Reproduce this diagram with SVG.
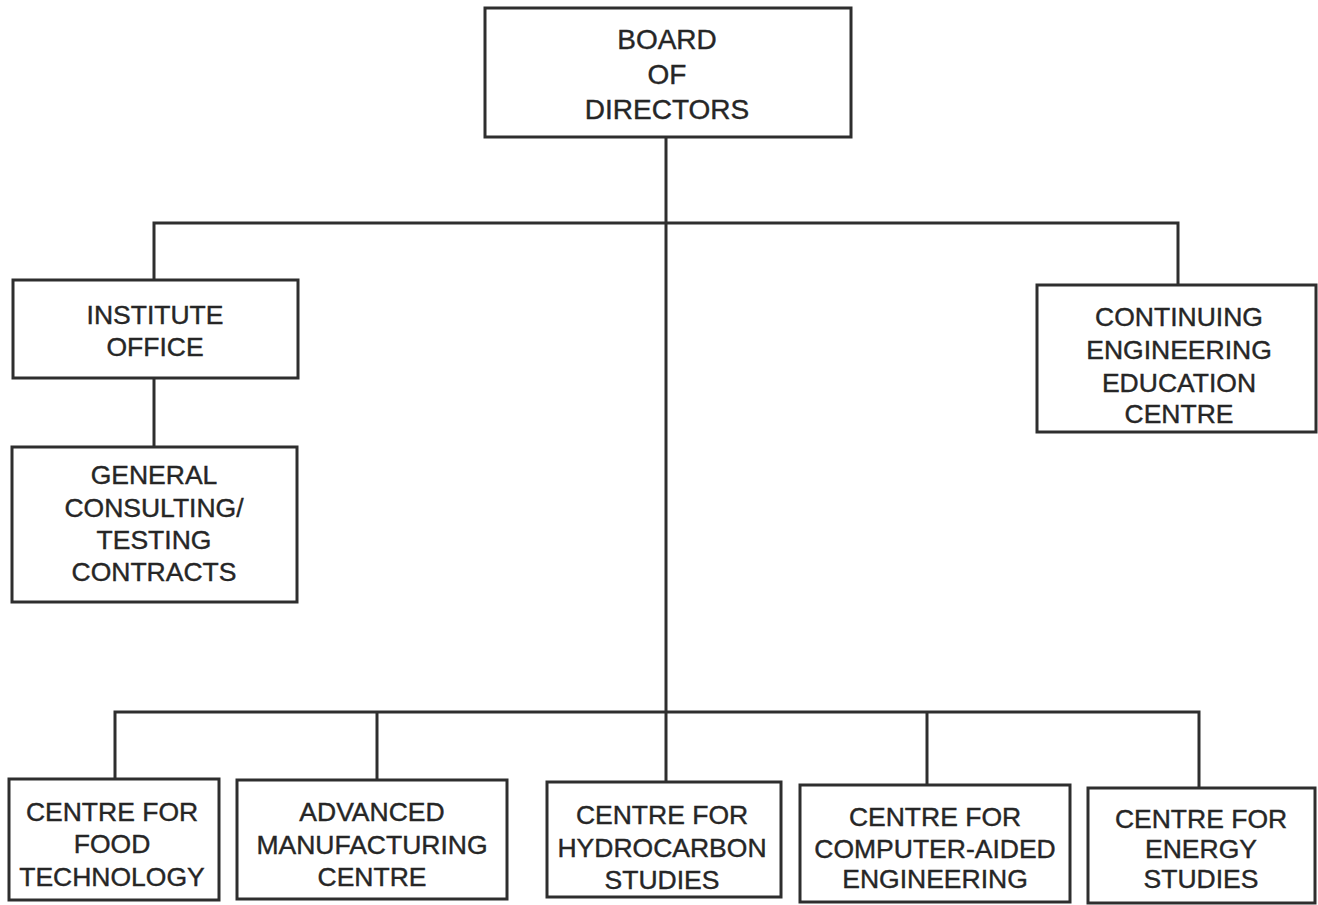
<svg xmlns="http://www.w3.org/2000/svg" width="1318" height="905" viewBox="0 0 1318 905">
<style>
.box{fill:#fff;stroke:#2e2e2e;stroke-width:3}
.ln{fill:none;stroke:#2e2e2e;stroke-width:3}
text{font-family:"Liberation Sans",Arial,Helvetica,sans-serif;font-size:26.5px;fill:#262626;stroke:#262626;stroke-width:0.4;text-anchor:middle}
.big{font-size:28px}
</style>
<rect width="1318" height="905" fill="#fff"/>
<g id="connectors">
<path class="ln" d="M666,137 V782"/>
<path class="ln" d="M154,280 V223 H1178 V285"/>
<path class="ln" d="M154,378 V447"/>
<path class="ln" d="M115,779 V712 H1199 V788"/>
<path class="ln" d="M377,712 V780"/>
<path class="ln" d="M927,712 V785"/>
</g>
<g id="board">
<rect class="box" x="485" y="8" width="366" height="129"/>
<text class="big" x="667" y="49">BOARD</text>
<text class="big" x="667" y="84">OF</text>
<text class="big" x="667" y="119">DIRECTORS</text>
</g>
<g id="institute-office">
<rect class="box" x="13" y="280" width="285" height="98"/>
<text x="155" y="324">INSTITUTE</text>
<text x="155" y="356">OFFICE</text>
</g>
<g id="general-consulting">
<rect class="box" x="12" y="447" width="285" height="155"/>
<text x="154" y="484">GENERAL</text>
<text x="154" y="517">CONSULTING/</text>
<text x="154" y="549">TESTING</text>
<text x="154" y="581">CONTRACTS</text>
</g>
<g id="continuing-education">
<rect class="box" x="1037" y="285" width="279" height="147"/>
<text x="1179" y="326">CONTINUING</text>
<text x="1179" y="359">ENGINEERING</text>
<text x="1179" y="392">EDUCATION</text>
<text x="1179" y="423">CENTRE</text>
</g>
<g id="food-technology">
<rect class="box" x="9" y="779" width="210" height="121"/>
<text x="112" y="821">CENTRE FOR</text>
<text x="112" y="853">FOOD</text>
<text x="112" y="886">TECHNOLOGY</text>
</g>
<g id="advanced-manufacturing">
<rect class="box" x="237" y="780" width="270" height="119"/>
<text x="372" y="821">ADVANCED</text>
<text x="372" y="854">MANUFACTURING</text>
<text x="372" y="886">CENTRE</text>
</g>
<g id="hydrocarbon-studies">
<rect class="box" x="547" y="782" width="234" height="115"/>
<text x="662" y="824">CENTRE FOR</text>
<text x="662" y="857">HYDROCARBON</text>
<text x="662" y="889">STUDIES</text>
</g>
<g id="computer-aided-engineering">
<rect class="box" x="800" y="785" width="270" height="117"/>
<text x="935" y="826">CENTRE FOR</text>
<text x="935" y="858">COMPUTER-AIDED</text>
<text x="935" y="888">ENGINEERING</text>
</g>
<g id="energy-studies">
<rect class="box" x="1088" y="788" width="227" height="115"/>
<text x="1201" y="828">CENTRE FOR</text>
<text x="1201" y="858">ENERGY</text>
<text x="1201" y="888">STUDIES</text>
</g>
</svg>
